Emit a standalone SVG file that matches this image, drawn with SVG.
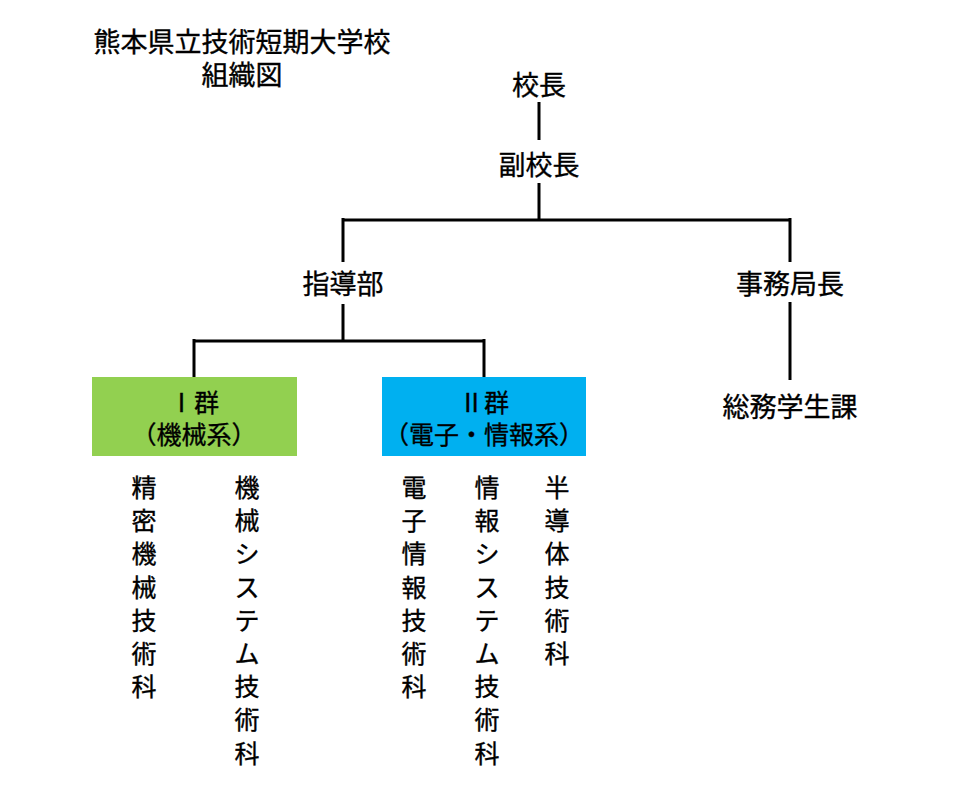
<svg xmlns="http://www.w3.org/2000/svg" width="958" height="804" viewBox="0 0 958 804">
<style>
text{font-family:"Noto Sans CJK JP","Noto Sans CJK SC",sans-serif;font-weight:normal;fill:#000;dominant-baseline:central;text-anchor:middle;stroke:#000;stroke-width:0.35}
.h{font-size:27px}
.b{font-size:25px}
.v{font-size:25px}
.c{stroke:#000;stroke-width:3;fill:none}
</style>
<rect width="958" height="804" fill="#fff"/>
<g id="title">
<text class="h"><tspan x="242" y="40">熊本県立技術短期大学校</tspan><tspan x="242" y="73">組織図</tspan></text>
</g>
<g id="connectors">
<path class="c" d="M539 102V140M539 183V220M343 220H790M343 218V262M790 218V262M343 304V341M194 341H484M194 339V377M484 339V377M790 302V380"/>
</g>
<g id="kocho"><text class="h" x="539" y="83">校長</text></g>
<g id="fukukocho"><text class="h" x="539" y="163">副校長</text></g>
<g id="shidobu"><text class="h" x="343" y="282">指導部</text></g>
<g id="jimukyokucho"><text class="h" x="790" y="282">事務局長</text></g>
<g id="somu"><text class="h" x="790" y="405">総務学生課</text></g>
<g id="group1">
<rect x="92" y="377" width="205" height="79" fill="#92D050"/>
<text class="b"><tspan x="194" y="401">Ⅰ群</tspan><tspan x="194" y="433">（機械系）</tspan></text>
</g>
<g id="group2">
<rect x="382" y="377" width="204" height="79" fill="#00B0F0"/>
<text class="b"><tspan x="484" y="401">Ⅱ群</tspan><tspan x="484" y="433">（電子・情報系）</tspan></text>
</g>
<g id="dept1"><text class="v"><tspan x="144" y="486">精</tspan><tspan x="144" dy="33.2">密</tspan><tspan x="144" dy="33.2">機</tspan><tspan x="144" dy="33.2">械</tspan><tspan x="144" dy="33.2">技</tspan><tspan x="144" dy="33.2">術</tspan><tspan x="144" dy="33.2">科</tspan></text></g>
<g id="dept2"><text class="v"><tspan x="247" y="486">機</tspan><tspan x="247" dy="33.2">械</tspan><tspan x="247" dy="33.2">シ</tspan><tspan x="247" dy="33.2">ス</tspan><tspan x="247" dy="33.2">テ</tspan><tspan x="247" dy="33.2">ム</tspan><tspan x="247" dy="33.2">技</tspan><tspan x="247" dy="33.2">術</tspan><tspan x="247" dy="33.2">科</tspan></text></g>
<g id="dept3"><text class="v"><tspan x="414" y="486">電</tspan><tspan x="414" dy="33.2">子</tspan><tspan x="414" dy="33.2">情</tspan><tspan x="414" dy="33.2">報</tspan><tspan x="414" dy="33.2">技</tspan><tspan x="414" dy="33.2">術</tspan><tspan x="414" dy="33.2">科</tspan></text></g>
<g id="dept4"><text class="v"><tspan x="487" y="486">情</tspan><tspan x="487" dy="33.2">報</tspan><tspan x="487" dy="33.2">シ</tspan><tspan x="487" dy="33.2">ス</tspan><tspan x="487" dy="33.2">テ</tspan><tspan x="487" dy="33.2">ム</tspan><tspan x="487" dy="33.2">技</tspan><tspan x="487" dy="33.2">術</tspan><tspan x="487" dy="33.2">科</tspan></text></g>
<g id="dept5"><text class="v"><tspan x="557" y="486">半</tspan><tspan x="557" dy="33.2">導</tspan><tspan x="557" dy="33.2">体</tspan><tspan x="557" dy="33.2">技</tspan><tspan x="557" dy="33.2">術</tspan><tspan x="557" dy="33.2">科</tspan></text></g>
</svg>
